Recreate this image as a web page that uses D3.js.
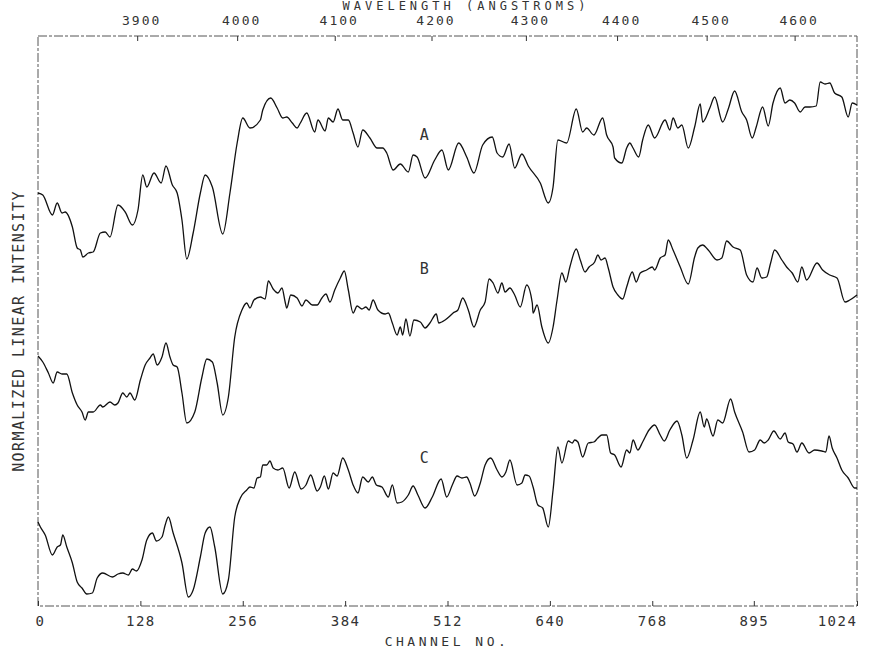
<!DOCTYPE html>
<html>
<head>
<meta charset="utf-8">
<script src="https://cdn.jsdelivr.net/npm/d3@7"></script>
<style>
  html, body { margin: 0; padding: 0; background: #fff; }
  svg text { font-family: "DejaVu Sans Mono", monospace; fill: #333; }
</style>
</head>
<body>
<svg id="chart" width="877" height="650"></svg>
<script>
// ---------------- DATA ----------------
const channelTicks = [0, 128, 256, 384, 512, 640, 768, 895, 1024];
const channelTickLabels = ["0", "128", "256", "384", "512", "640", "768", "895", "1024"];
const wavelengthTickChannels = [124, 249, 371, 492, 610, 724, 836, 946];
const wavelengthTickLabels = ["3900", "4000", "4100", "4200", "4300", "4400", "4500", "4600"];
const seriesNames = ["A", "B", "C"];
const labelChannels = [483, 483, 483];
const labelValues = [471, 337, 148];

// [channel, normalized intensity (with vertical offsets)]
const spectrumA = [
[0,413],[6,411],[18,391],[24,403],[30,393],[34,394],[43,379],[49,358],[53,356],[56,349],[63,353],[69,354],
[78,373],[84,374],[90,369],[100,401],[109,394],[118,381],[125,396],[131,431],[136,419],[145,433],[154,423],
[160,440],[168,421],[174,413],[180,386],[186,347],[194,373],[203,413],[209,431],[218,419],[231,372],[240,413],
[249,463],[256,488],[265,478],[278,486],[281,496],[291,508],[299,498],[306,488],[311,489],[318,483],[324,478],
[328,483],[336,493],[346,474],[350,486],[359,475],[363,488],[369,484],[375,497],[381,486],[388,486],[394,473],
[400,459],[406,476],[415,468],[424,458],[431,458],[436,453],[444,436],[453,442],[463,434],[469,451],[474,449],
[484,428],[496,446],[505,456],[513,436],[526,463],[536,449],[545,433],[556,461],[568,469],[574,453],[581,449],
[589,462],[596,438],[605,452],[613,440],[628,423],[638,403],[644,419],[650,466],[661,463],[673,497],[681,474],
[686,478],[695,471],[706,488],[711,471],[719,459],[721,448],[730,443],[736,458],[740,463],[744,458],[751,449],
[756,466],[763,481],[771,468],[784,486],[790,476],[794,488],[800,478],[805,481],[813,458],[821,479],[828,502],
[831,484],[840,498],[846,509],[856,484],[863,497],[871,515],[880,494],[886,486],[893,468],[898,479],[906,499],
[913,480],[919,503],[928,518],[934,503],[940,506],[946,503],[953,494],[959,499],[965,499],[973,500],[978,524],
[984,522],[990,523],[996,513],[1005,509],[1013,489],[1018,503],[1024,501]
];
const spectrumB = [
[0,250],[6,244],[13,233],[19,223],[24,234],[30,232],[36,232],[43,213],[49,201],[55,194],[59,186],[63,194],
[69,194],[78,201],[81,199],[90,204],[96,201],[100,203],[106,213],[111,209],[115,213],[121,206],[128,226],
[134,241],[140,248],[144,252],[149,241],[155,249],[160,263],[165,249],[169,241],[174,239],[180,213],[186,183],
[196,194],[205,229],[211,247],[218,244],[224,223],[231,191],[238,209],[246,269],[255,296],[261,303],[265,298],
[270,306],[278,309],[284,307],[288,325],[294,317],[300,313],[305,318],[309,304],[311,298],[316,311],[324,308],
[330,300],[335,306],[343,301],[349,301],[355,308],[360,312],[365,304],[371,316],[378,328],[383,335],[388,316],
[394,293],[399,300],[405,297],[410,299],[414,296],[419,306],[425,296],[434,292],[438,293],[443,283],[449,271],
[453,279],[456,271],[460,287],[465,270],[470,286],[478,284],[484,278],[490,283],[498,292],[501,283],[509,286],
[515,290],[519,293],[525,296],[531,308],[538,296],[545,279],[553,296],[559,304],[564,327],[569,323],[575,313],
[580,323],[584,314],[590,318],[596,311],[603,299],[611,321],[618,303],[619,293],[624,301],[630,279],[638,263],
[644,279],[649,306],[655,333],[660,324],[665,339],[673,357],[678,346],[684,334],[689,339],[696,344],[700,351],
[704,346],[709,348],[713,338],[719,319],[725,311],[731,307],[736,319],[743,334],[748,324],[753,333],[761,336],
[768,339],[771,336],[778,348],[784,351],[788,366],[794,356],[803,339],[813,322],[821,349],[825,358],[831,361],
[838,356],[849,346],[855,348],[861,365],[869,359],[878,356],[886,331],[894,324],[899,338],[905,328],[911,329],
[916,343],[921,356],[930,346],[936,339],[943,333],[950,324],[955,339],[961,326],[974,343],[981,336],[990,331],
[999,328],[1009,304],[1015,306],[1024,311]
];
const spectrumC = [
[0,84],[3,79],[9,71],[18,51],[24,59],[28,61],[31,71],[36,59],[43,43],[49,24],[55,18],[61,12],[68,13],[74,28],
[81,33],[93,29],[100,32],[106,33],[113,31],[118,37],[123,35],[130,46],[136,66],[143,73],[148,65],[155,69],
[159,81],[163,89],[169,73],[180,43],[188,9],[194,16],[203,49],[209,73],[215,79],[221,59],[231,12],[238,26],
[246,89],[253,108],[261,116],[265,119],[270,118],[274,128],[278,129],[281,141],[286,141],[290,145],[294,138],
[300,136],[306,138],[314,118],[321,134],[329,117],[335,121],[341,131],[349,115],[353,119],[358,130],[363,117],
[369,133],[374,130],[381,148],[388,136],[394,121],[400,113],[406,129],[413,124],[418,129],[423,121],[430,119],
[438,109],[443,121],[449,103],[455,104],[463,111],[469,120],[475,111],[484,98],[493,109],[504,127],[511,109],
[518,121],[524,130],[530,128],[536,129],[540,123],[546,110],[553,123],[559,141],[566,148],[574,136],[580,129],
[585,134],[590,146],[599,121],[605,123],[609,131],[614,130],[619,119],[625,101],[631,98],[638,79],[644,116],
[650,159],[655,143],[663,165],[668,163],[671,166],[675,164],[681,149],[688,163],[695,164],[700,168],[705,171],
[711,171],[716,153],[721,151],[729,139],[736,156],[740,153],[744,166],[750,156],[756,164],[764,176],[771,181],
[778,171],[783,165],[790,176],[799,185],[805,171],[811,148],[819,166],[828,194],[833,179],[836,187],[844,170],
[850,186],[856,183],[866,207],[871,194],[881,174],[889,154],[896,156],[903,166],[908,163],[913,166],[920,175],
[928,167],[934,173],[938,164],[944,162],[949,154],[955,163],[964,153],[971,156],[980,155],[985,154],[989,170],
[993,158],[999,148],[1005,136],[1013,128],[1021,118],[1024,118]
];
const spectra = [spectrumA, spectrumB, spectrumC];

// ---------------- CHART ----------------
const svg = d3.select("#chart");
const plot = { left: 38, right: 857, top: 36, bottom: 606 };

const x = d3.scaleLinear().domain([0, 1024]).range([plot.left, plot.right]);
const y = d3.scaleLinear().domain([0, 570]).range([plot.bottom, plot.top]);

// frame (scanned dashed look)
svg.append("rect")
  .attr("x", plot.left).attr("y", plot.top)
  .attr("width", plot.right - plot.left).attr("height", plot.bottom - plot.top)
  .attr("fill", "none").attr("stroke", "#555").attr("stroke-width", 1)
  .attr("stroke-dasharray", "9 2 3 2");

// bottom axis (channel)
const bottomAxis = d3.axisBottom(x)
  .tickValues(channelTicks)
  .tickFormat((d, i) => channelTickLabels[i])
  .tickSizeInner(-5).tickSizeOuter(0).tickPadding(10);
const gB = svg.append("g").attr("transform", `translate(0,${plot.bottom})`).call(bottomAxis);
gB.select(".domain").remove();
gB.selectAll(".tick line").attr("stroke", "#333");
gB.selectAll(".tick text")
  .style("font-size", "14px").style("letter-spacing", "1.5px").attr("fill", "#333")
  .attr("dx", (d, i) => i === channelTicks.length - 1 ? -20 : (i === 0 ? 2 : 0));

// top axis (wavelength)
const topAxis = d3.axisTop(x)
  .tickValues(wavelengthTickChannels)
  .tickFormat((d, i) => wavelengthTickLabels[i])
  .tickSizeInner(-5).tickSizeOuter(0).tickPadding(11);
const gT = svg.append("g").attr("transform", `translate(0,${plot.top})`).call(topAxis);
gT.select(".domain").remove();
gT.selectAll(".tick line").attr("stroke", "#333");
gT.selectAll(".tick text")
  .style("font-size", "13px").style("letter-spacing", "2px").attr("fill", "#333")
  .attr("dx", 4);

// axis titles
svg.append("text").attr("x", 466).attr("y", 10).attr("text-anchor", "middle")
  .style("font-size", "12px").style("letter-spacing", "4px")
  .text("WAVELENGTH (ANGSTROMS)");
svg.append("text").attr("x", 447).attr("y", 646).attr("text-anchor", "middle")
  .style("font-size", "13px").style("letter-spacing", "3.5px")
  .text("CHANNEL NO.");
svg.append("text")
  .attr("transform", "translate(24,331) rotate(-90)")
  .attr("text-anchor", "middle")
  .style("font-size", "15px").style("letter-spacing", "1.4px")
  .text("NORMALIZED LINEAR INTENSITY");

// spectra
const line = d3.line()
  .x(d => x(d[0])).y(d => y(d[1]))
  .curve(d3.curveMonotoneX);

svg.append("g").selectAll("path")
  .data(spectra).join("path")
  .attr("d", line)
  .attr("fill", "none").attr("stroke", "#111")
  .attr("stroke-width", 1.3).attr("stroke-linejoin", "round");

// series labels
svg.append("g").selectAll("text")
  .data(seriesNames).join("text")
  .attr("x", (d, i) => x(labelChannels[i]))
  .attr("y", (d, i) => y(labelValues[i]))
  .attr("dy", "0.35em").attr("text-anchor", "middle")
  .style("font-size", "15px")
  .text(d => d);
</script>
</body>
</html>
